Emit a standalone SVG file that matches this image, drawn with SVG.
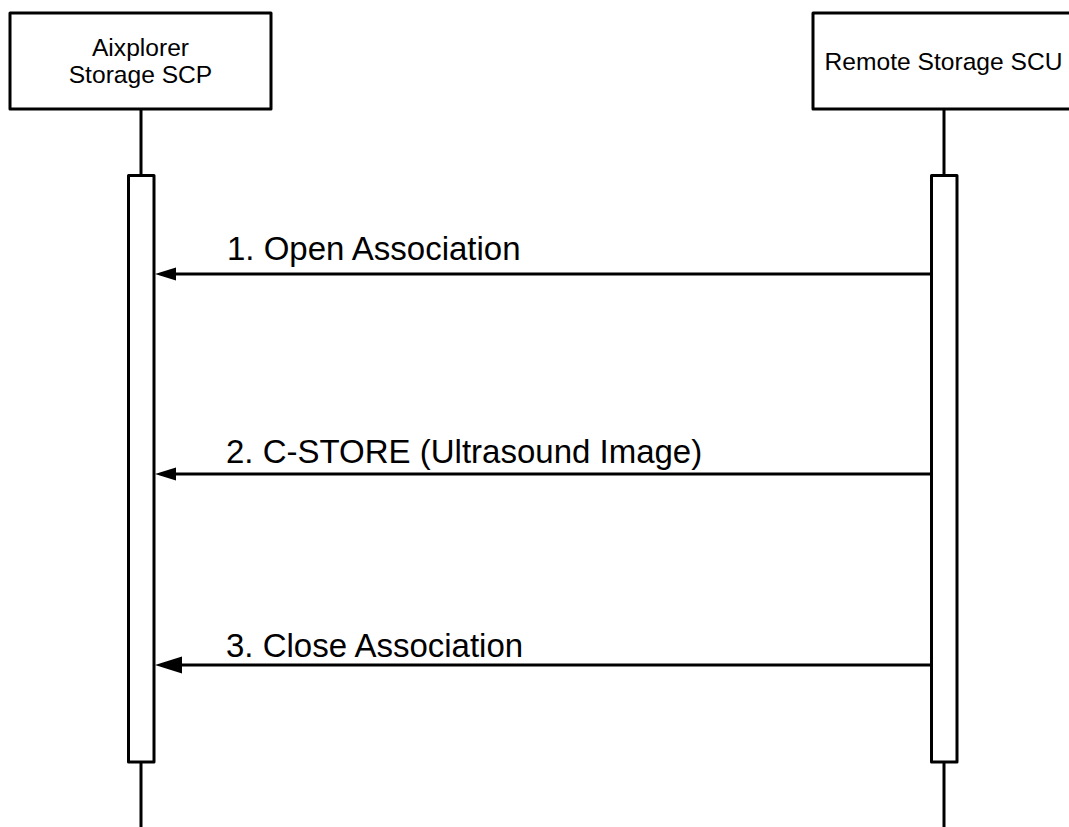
<svg xmlns="http://www.w3.org/2000/svg" width="1069" height="827" viewBox="0 0 1069 827">
<defs>
<style>
.box{fill:#fff;stroke:#000;stroke-width:3;stroke-linejoin:round}
.line{stroke:#000;stroke-width:3;fill:none}
.btxt{font-family:"Liberation Sans",Arial,sans-serif;font-size:24.6px;fill:#000;text-anchor:middle}
.ltxt{font-family:"Liberation Sans",Arial,sans-serif;font-size:33px;fill:#000}
</style>
</defs>
<rect width="1069" height="827" fill="#fff"/>
<g id="aixplorer">
<line class="line" x1="141" y1="110" x2="141" y2="176"/>
<line class="line" x1="141" y1="762" x2="141" y2="827"/>
<rect class="box" x="10" y="13" width="261" height="96"/>
<text class="btxt" x="140.5" y="56">Aixplorer</text>
<text class="btxt" x="140.5" y="83">Storage SCP</text>
<rect class="box" x="128.5" y="175.5" width="25.5" height="586.5"/>
</g>
<g id="remote">
<line class="line" x1="944" y1="110" x2="944" y2="176"/>
<line class="line" x1="944" y1="762" x2="944" y2="827"/>
<rect class="box" x="813" y="13" width="262" height="96"/>
<text class="btxt" x="943.5" y="70">Remote Storage SCU</text>
<rect class="box" x="931.5" y="175.5" width="25.5" height="586.5"/>
</g>
<g id="connectors">
<line class="line" x1="931" y1="274" x2="172" y2="274"/>
<polygon points="155,274 176,267.5 176,280.5" fill="#000"/>
<text class="ltxt" x="227" y="260">1. Open Association</text>
<line class="line" x1="931" y1="474" x2="172" y2="474"/>
<polygon points="155,474 176,467.5 176,480.5" fill="#000"/>
<text class="ltxt" x="226" y="463">2. C-STORE (Ultrasound Image)</text>
<line class="line" x1="931" y1="665" x2="178" y2="665"/>
<polygon points="155,665 182,656.5 182,673.5" fill="#000"/>
<text class="ltxt" x="226" y="657">3. Close Association</text>
</g>
</svg>
